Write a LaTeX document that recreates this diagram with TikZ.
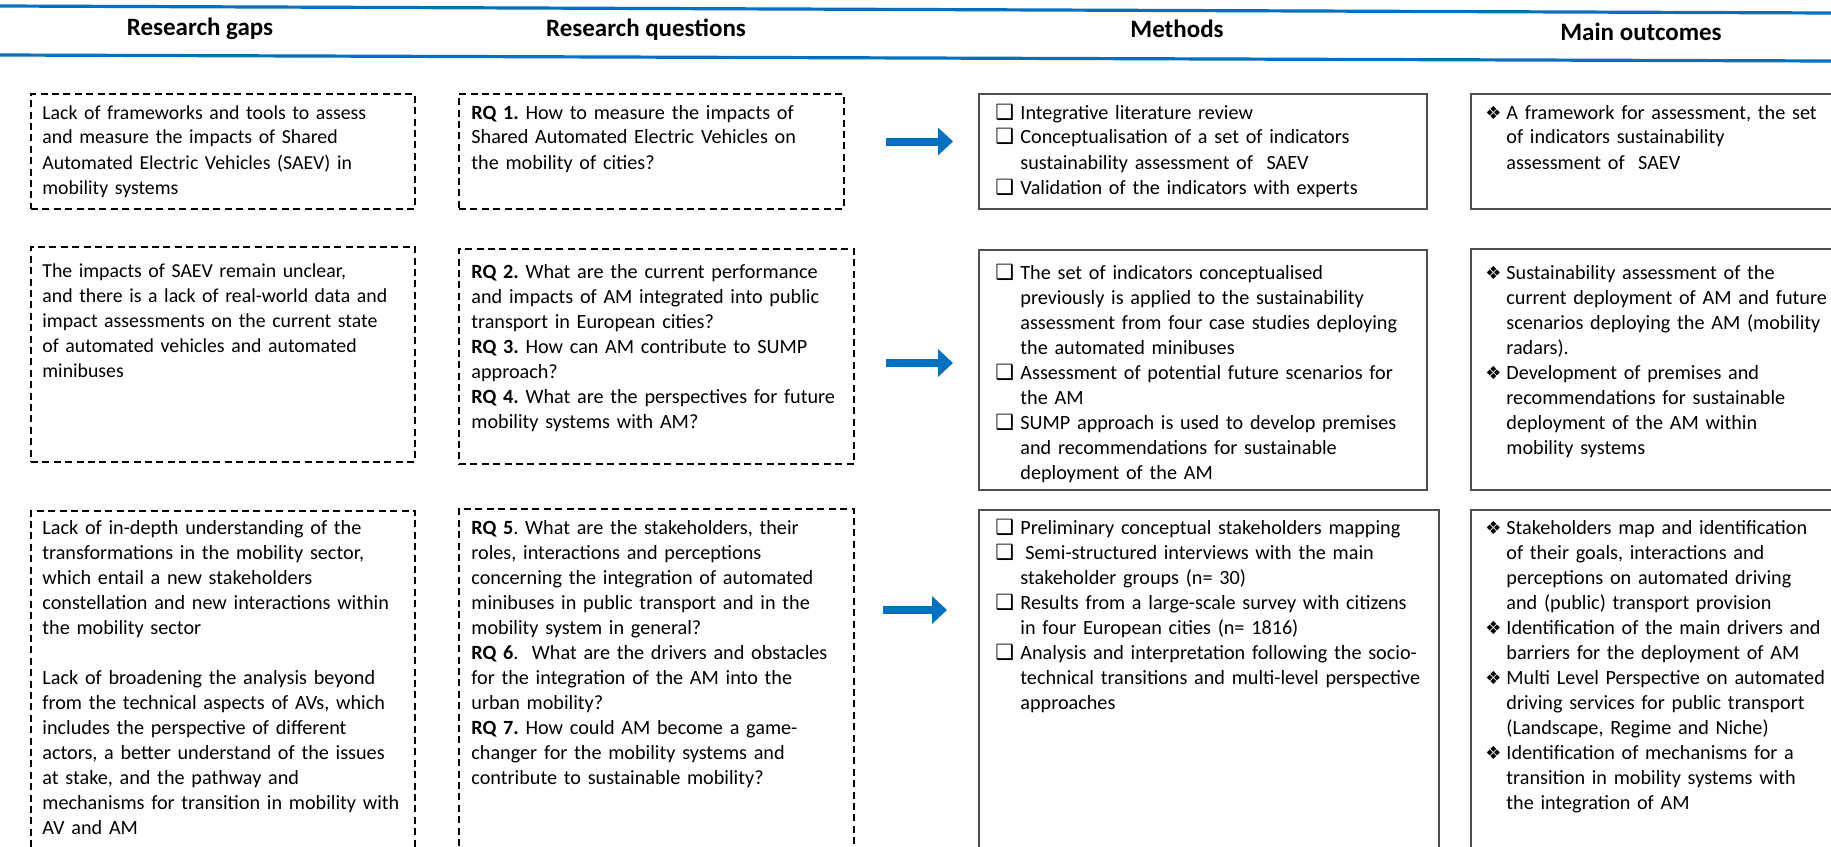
\documentclass[tikz,border=0pt]{standalone}
\usepackage{fontspec}
\setmainfont{Carlito}
\newfontfamily\symfont{DejaVu Sans}
\usetikzlibrary{arrows.meta}
\definecolor{hblue}{RGB}{0,112,192}
\definecolor{mgray}{RGB}{80,80,80}
\newcommand{\cbx}{\makebox[12.5pt][l]{\symfont\fontsize{10.5}{10}\selectfont ❑}}
\newcommand{\dmd}{\makebox[9.5pt][l]{\hspace*{-1pt}\symfont\fontsize{9}{10}\selectfont ❖}}
\newcommand{\ia}{\hspace*{12.5pt}}
\newcommand{\ib}{\hspace*{9.5pt}}
\frenchspacing
\begin{document}
\begin{tikzpicture}[x=0.5pt,y=-0.5pt,
  gapbox/.style={draw=black, line width=0.9pt, dash pattern=on 3.5pt off 2.2pt, anchor=north west, inner sep=0pt},
  metbox/.style={draw=mgray, line width=0.75pt, anchor=north west, inner sep=0pt},
  txt/.style={anchor=base west, inner sep=0pt, text width=260pt, align=left, font=\frenchspacing\fontsize{10.1}{12.5}\selectfont},
  head/.style={font=\bfseries\fontsize{12.5}{15}\selectfont, anchor=base, inner sep=0pt},
  hline/.style={draw=hblue, line width=1.6pt},
  bigarrow/.style={draw=hblue, line width=4pt, -{Triangle[width=13.5pt,length=7.5pt]}}
]
\useasboundingbox (0,0) rectangle (1831,846);
\fill[white] (0,0) rectangle (1831,846);

% header
\draw[hline] (0,6) -- (1831,13);
\draw[hline] (0,55) -- (1831,61);
\node[head] (h1) at (200,35) {Research gaps};
\node[head] (h2) at (646,36) {Research questions};
\node[head] (h3) at (1177,37) {Methods};
\node[head] (h4) at (1641,40) {Main outcomes};

% boxes row 1
\node[gapbox, minimum width=192pt, minimum height=57.5pt] (g1) at (30,93) {};
\node[gapbox, minimum width=192.5pt, minimum height=57.5pt] (q1) at (458,93) {};
\node[metbox, minimum width=224pt, minimum height=57.5pt] (m1) at (978,93) {};
\node[metbox, minimum width=200pt, minimum height=57.5pt] (o1) at (1470,93) {};
% row 2
\node[gapbox, minimum width=192pt, minimum height=107.5pt] (g2) at (30,246) {};
\node[gapbox, minimum width=197.5pt, minimum height=107.5pt] (q2) at (458,248) {};
\node[metbox, minimum width=224pt, minimum height=120pt] (m2) at (978,249) {};
\node[metbox, minimum width=200pt, minimum height=120.5pt] (o2) at (1470,248) {};
% row 3
\node[gapbox, minimum width=192pt, minimum height=181pt] (g3) at (30,510) {};
\node[gapbox, minimum width=197.5pt, minimum height=181pt] (q3) at (458,508) {};
\node[metbox, minimum width=230pt, minimum height=181pt] (m3) at (978,509) {};
\node[metbox, minimum width=200pt, minimum height=181pt] (o3) at (1470,509) {};

% arrows
\coordinate (a1s) at (886,141.5); \coordinate (a1e) at (953,141.5);
\coordinate (a2s) at (886,363);   \coordinate (a2e) at (953,363);
\coordinate (a3s) at (883,610);   \coordinate (a3e) at (947,610);
\draw[bigarrow] (a1s) -- (a1e);
\draw[bigarrow] (a2s) -- (a2e);
\draw[bigarrow] (a3s) -- (a3e);

% texts row 1
\node[txt, font=\frenchspacing\fontsize{9.9}{12.5}\selectfont] (tg1) at (42,119) {Lack of frameworks and tools to assess\\
and measure the impacts of Shared\\
Automated Electric Vehicles (SAEV) in\\
mobility systems};
\node[txt] (tq1) at (471,119) {\textbf{RQ 1.} How to measure the impacts of\\
Shared Automated Electric Vehicles on\\
the mobility of cities?};
\node[txt] (tm1) at (995,119) {\cbx Integrative literature review\\
\cbx Conceptualisation of a set of indicators\\
\ia sustainability assessment of~ SAEV\\
\cbx Validation of the indicators with experts};
\node[txt] (to1) at (1487,119) {\dmd A framework for assessment, the set\\
\ib of indicators sustainability\\
\ib assessment of~ SAEV};

% texts row 2
\node[txt, font=\frenchspacing\fontsize{9.9}{12.5}\selectfont] (tg2) at (42,277) {The impacts of SAEV remain unclear,\\
and there is a lack of real-world data and\\
impact assessments on the current state\\
of automated vehicles and automated\\
minibuses};
\node[txt] (tq2) at (471,278) {\textbf{RQ 2.} What are the current performance\\
and impacts of AM integrated into public\\
transport in European cities?\\
\textbf{RQ 3.} How can AM contribute to SUMP\\
approach?\\
\textbf{RQ 4.} What are the perspectives for future\\
mobility systems with AM?};
\node[txt] (tm2) at (995,279) {\cbx The set of indicators conceptualised\\
\ia previously is applied to the sustainability\\
\ia assessment from four case studies deploying\\
\ia the automated minibuses\\
\cbx Assessment of potential future scenarios for\\
\ia the AM\\
\cbx SUMP approach is used to develop premises\\
\ia and recommendations for sustainable\\
\ia deployment of the AM};
\node[txt] (to2) at (1487,279) {\dmd Sustainability assessment of the\\
\ib current deployment of AM and future\\
\ib scenarios deploying the AM (mobility\\
\ib radars).\\
\dmd Development of premises and\\
\ib recommendations for sustainable\\
\ib deployment of the AM within\\
\ib mobility systems};

% texts row 3
\node[txt] (tg3) at (42,534) {Lack of in-depth understanding of the\\
transformations in the mobility sector,\\
which entail a new stakeholders\\
constellation and new interactions within\\
the mobility sector\\[12.5pt]
Lack of broadening the analysis beyond\\
from the technical aspects of AVs, which\\
includes the perspective of different\\
actors, a better understand of the issues\\
at stake, and the pathway and\\
mechanisms for transition in mobility with\\
AV and AM};
\node[txt] (tq3) at (471,534) {\textbf{RQ 5}. What are the stakeholders, their\\
roles, interactions and perceptions\\
concerning the integration of automated\\
minibuses in public transport and in the\\
mobility system in general?\\
\textbf{RQ 6}.~ What are the drivers and obstacles\\
for the integration of the AM into the\\
urban mobility?\\
\textbf{RQ 7.} How could AM become a game-\\
changer for the mobility systems and\\
contribute to sustainable mobility?};
\node[txt] (tm3) at (995,534) {\cbx Preliminary conceptual stakeholders mapping\\
\cbx\hspace{2.5pt}Semi-structured interviews with the main\\
\ia stakeholder groups (n= 30)\\
\cbx Results from a large-scale survey with citizens\\
\ia in four European cities (n= 1816)\\
\cbx Analysis and interpretation following the socio-\\
\ia technical transitions and multi-level perspective\\
\ia approaches};
\node[txt] (to3) at (1487,534) {\dmd Stakeholders map and identification\\
\ib of their goals, interactions and\\
\ib perceptions on automated driving\\
\ib and (public) transport provision\\
\dmd Identification of the main drivers and\\
\ib barriers for the deployment of AM\\
\dmd Multi Level Perspective on automated\\
\ib driving services for public transport\\
\ib (Landscape, Regime and Niche)\\
\dmd Identification of mechanisms for a\\
\ib transition in mobility systems with\\
\ib the integration of AM};
\end{tikzpicture}
\end{document}
